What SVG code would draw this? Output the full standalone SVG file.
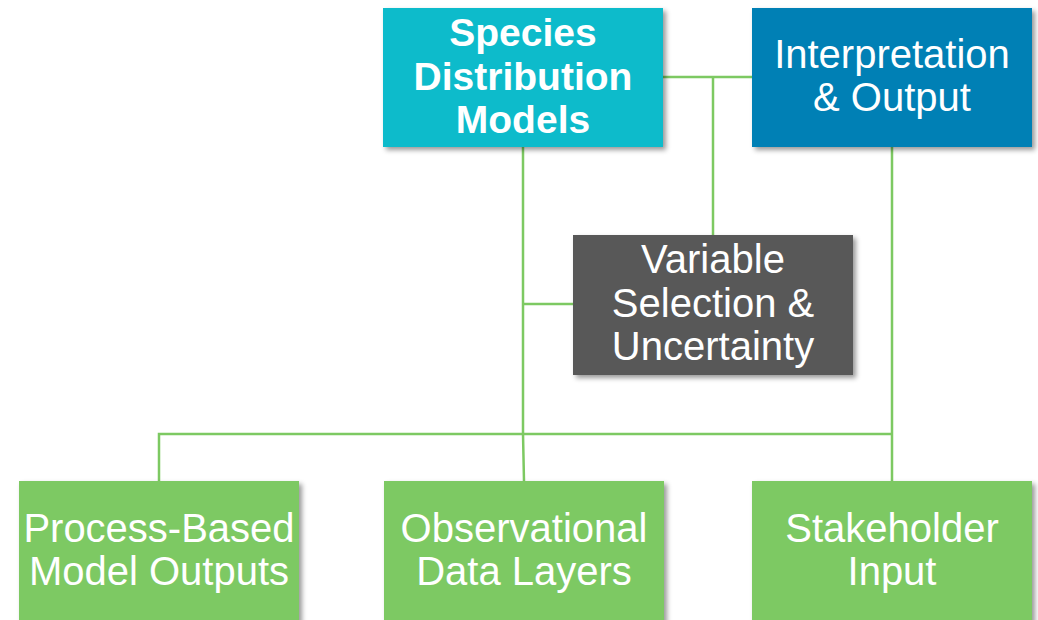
<svg xmlns="http://www.w3.org/2000/svg" width="1038" height="620" viewBox="0 0 1038 620">
<defs>
<filter id="sh" x="-10%" y="-10%" width="125%" height="130%">
<feDropShadow dx="3" dy="3" stdDeviation="2.5" flood-color="#000" flood-opacity="0.4"/>
</filter>
<style>
.box{filter:url(#sh)}
.t{font-family:"Liberation Sans",Arial,sans-serif;font-size:40px;fill:#fff;text-anchor:middle}
.b{font-weight:bold;font-size:39px}
.c{stroke:#7DC962;stroke-width:2.5;fill:none}
</style>
</defs>
<rect width="1038" height="620" fill="#fff"/>
<g id="connectors">
<path class="c" d="M663 77H752"/>
<path class="c" d="M713 77V235"/>
<path class="c" d="M523 147V434L524 481"/>
<path class="c" d="M523 304H573"/>
<path class="c" d="M159 481V434H892"/>
<path class="c" d="M892 147V481"/>
</g>
<g id="species">
<rect class="box" x="383" y="8" width="280" height="139" fill="#0BBBCB"/>
<text class="t b" x="523" y="46">Species</text>
<text class="t b" x="523" y="90">Distribution</text>
<text class="t b" x="523" y="133">Models</text>
</g>
<g id="interpretation">
<rect class="box" x="752" y="8" width="280" height="139" fill="#0080B5"/>
<text class="t" x="892" y="68">Interpretation</text>
<text class="t" x="892" y="111">&amp; Output</text>
</g>
<g id="variable">
<rect class="box" x="573" y="235" width="280" height="140" fill="#595959"/>
<text class="t" x="713" y="273">Variable</text>
<text class="t" x="713" y="317">Selection &amp;</text>
<text class="t" x="713" y="360">Uncertainty</text>
</g>
<g id="process">
<rect class="box" x="19" y="481" width="280" height="145" fill="#7DC964"/>
<text class="t" x="159" y="542">Process-Based</text>
<text class="t" x="159" y="585">Model Outputs</text>
</g>
<g id="observational">
<rect class="box" x="384" y="481" width="280" height="145" fill="#7DC964"/>
<text class="t" x="524" y="542">Observational</text>
<text class="t" x="524" y="585">Data Layers</text>
</g>
<g id="stakeholder">
<rect class="box" x="752" y="481" width="280" height="145" fill="#7DC964"/>
<text class="t" x="892" y="542">Stakeholder</text>
<text class="t" x="892" y="585">Input</text>
</g>
</svg>
